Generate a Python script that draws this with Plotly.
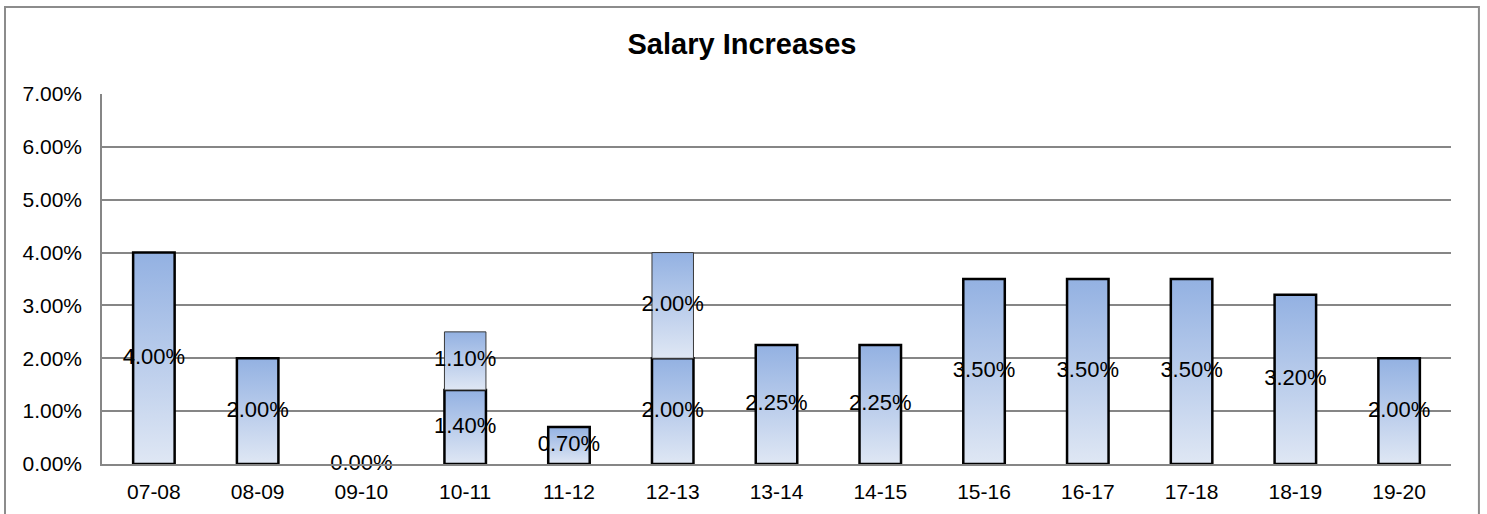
import plotly.graph_objects as go

# Fiscal years and salary increase percentages
years = ["07-08", "08-09", "09-10", "10-11", "11-12", "12-13", "13-14",
         "14-15", "15-16", "16-17", "17-18", "18-19", "19-20"]
base_increase = [0.04, 0.02, 0.0, 0.014, 0.007, 0.02, 0.0225,
                 0.0225, 0.035, 0.035, 0.035, 0.032, 0.02]
# Additional mid-year increase stacked on top (None where absent)
extra_increase = [None, None, None, 0.011, None, 0.02, None,
                  None, None, None, None, None, None]

BAR_HALF = 0.2
GRADIENT = [[0, "#dfe7f4"], [1, "#93b1e2"]]
FONT = "Liberation Sans, Arial"

fig = go.Figure()


def add_bar(i, bottom, height, line_color, line_width):
    x0, x1 = i - BAR_HALF, i + BAR_HALF
    top = bottom + height
    fig.add_trace(go.Scatter(
        x=[x0, x1, x1, x0, x0],
        y=[bottom, bottom, top, top, bottom],
        mode="lines",
        fill="toself",
        fillgradient=dict(type="vertical", colorscale=GRADIENT),
        line=dict(color=line_color, width=line_width),
        hoverinfo="skip",
        showlegend=False,
    ))


label_x, label_y, label_text = [], [], []
for i, v in enumerate(base_increase):
    if v > 0:
        add_bar(i, 0, v, "#000000", 2.5)
    label_x.append(i)
    label_y.append(v / 2)
    label_text.append(f"{v * 100:.2f}%")

for i, v in enumerate(extra_increase):
    if v is None:
        continue
    add_bar(i, base_increase[i], v, "#3a3a3a", 1)
    label_x.append(i)
    label_y.append(base_increase[i] + v / 2)
    label_text.append(f"{v * 100:.2f}%")

fig.add_trace(go.Scatter(
    x=label_x, y=label_y, text=label_text, mode="text",
    textposition="middle center",
    textfont=dict(family=FONT, size=22, color="#000000"),
    cliponaxis=False, hoverinfo="skip", showlegend=False,
))

# Outer chart frame
fig.add_shape(type="rect", xref="paper", yref="paper",
              x0=-0.0719, x1=1.0207, y0=-0.2, y1=1.2351,
              line=dict(color="#8c8c8c", width=2), fillcolor="rgba(0,0,0,0)",
              layer="below")

fig.update_layout(
    width=1487, height=514,
    margin=dict(l=102, r=36, t=94, b=50, autoexpand=False),
    paper_bgcolor="white", plot_bgcolor="white",
    font=dict(family=FONT, color="#000000"),
    title=dict(text="<b>Salary Increases</b>", xref="container", x=0.499,
               xanchor="center", y=1 - 44 / 514, yanchor="middle",
               font=dict(size=29, color="#000000")),
    xaxis=dict(
        range=[-0.5, 12.5], tickmode="array",
        tickvals=list(range(len(years))), ticktext=years,
        showgrid=False, zeroline=False, automargin=False,
        showline=True, linecolor="#868686", linewidth=1.5,
        ticks="", tickfont=dict(size=21), ticklabelstandoff=8,
    ),
    yaxis=dict(
        range=[0, 0.07], dtick=0.01, tickformat=".2%",
        showgrid=True, gridcolor="#868686", gridwidth=1.5,
        zeroline=False, showline=True, linecolor="#868686", linewidth=1.5,
        automargin=False,
        ticks="", tickfont=dict(size=21), ticklabelstandoff=14,
    ),
)

fig.write_html("out.html")
